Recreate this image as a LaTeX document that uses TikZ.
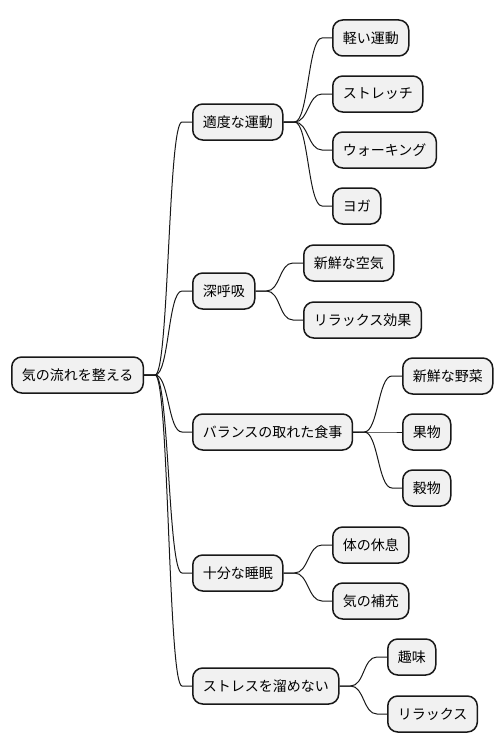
\documentclass[tikz,border=0pt]{standalone}
\usepackage{fontspec}
\setmainfont{Noto Sans CJK JP}
\usepackage{tikz}
\usepackage{xcolor}
\definecolor{boxfill}{HTML}{F1F1F1}
\definecolor{boxline}{HTML}{181818}
\tikzset{
  topic/.style={draw=boxline, fill=boxfill, line width=1.5pt, rounded corners=10pt,
    minimum height=36pt, inner xsep=10pt, inner ysep=0pt, anchor=west,
    font=\fontsize{14}{16}\selectfont},
  link/.style={draw=boxline, line width=1pt}
}
\begin{document}
\begin{tikzpicture}[x=1pt, y=-1pt]
\useasboundingbox (0,0) rectangle (502,752);
\pgfmathsetmacro{\colA}{11}
\pgfmathsetmacro{\colB}{192}
\node[topic] (root) at (\colA,375) {気の流れを整える};
\node[topic] (exercise) at (\colB,122) {適度な運動};
\node[topic] (light) at (332,38) {軽い運動};
\node[topic] (stretch) at (332,94) {ストレッチ};
\node[topic] (walk) at (332,150) {ウォーキング};
\node[topic] (yoga) at (332,206) {ヨガ};
\node[topic] (breath) at (\colB,291) {深呼吸};
\node[topic] (air) at (303,263) {新鮮な空気};
\node[topic] (relaxfx) at (303,320) {リラックス効果};
\node[topic] (diet) at (\colB,432) {バランスの取れた食事};
\node[topic] (veg) at (402,376) {新鮮な野菜};
\node[topic] (fruit) at (402,432) {果物};
\node[topic] (grain) at (402,488) {穀物};
\node[topic] (sleep) at (\colB,573) {十分な睡眠};
\node[topic] (rest) at (332,545) {体の休息};
\node[topic] (recharge) at (332,601) {気の補充};
\node[topic] (stress) at (\colB,686) {ストレスを溜めない};
\node[topic] (hobby) at (387,657) {趣味};
\node[topic] (relax) at (387,714) {リラックス};
\foreach \p/\c in {root/exercise, root/breath, root/diet, root/sleep, root/stress,
    exercise/light, exercise/stretch, exercise/walk, exercise/yoga,
    breath/air, breath/relaxfx, diet/veg, diet/fruit, diet/grain,
    sleep/rest, sleep/recharge, stress/hobby, stress/relax}
  \draw[link] (\p.east) -- ++(11pt,0) .. controls +(14pt,0) and +(-14pt,0) .. ([xshift=-10pt]\c.west) -- (\c.west);
\end{tikzpicture}
\end{document}
